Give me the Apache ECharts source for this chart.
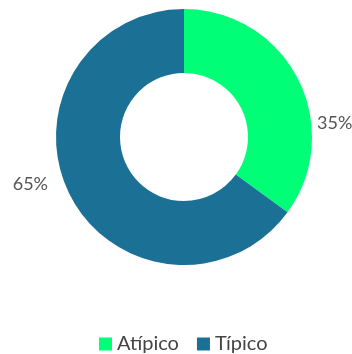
<!DOCTYPE html>
<html><head><meta charset="utf-8">
<script src="https://cdn.jsdelivr.net/npm/echarts@6/dist/echarts.min.js"></script>
<style>html,body{margin:0;padding:0;background:#fff}#c{width:352px;height:354px}</style>
</head><body><div id="c"></div>
<script>
var categories = ['Atípico', 'Típico'];
var values = [35, 65];
var colors = ['#00FF77', '#1B7096'];

var chart = echarts.init(document.getElementById('c'), null, {renderer: 'canvas'});
var labelPos = [[317, 123, 'left'], [48, 184, 'right']];
chart.setOption({
  animation: false,
  color: colors,
  legend: {
    top: 334,
    left: 99,
    padding: 0,
    icon: 'rect',
    itemWidth: 13,
    itemHeight: 13,
    itemGap: 18,
    itemStyle: {borderWidth: 0},
    textStyle: {fontFamily: 'Lato', fontSize: 20, color: '#444'},
    data: categories
  },
  series: [{
    type: 'pie',
    center: [184, 137],
    radius: [64, 128],
    startAngle: 90,
    clockwise: true,
    label: {
      show: true,
      position: 'outside',
      alignTo: 'none',
      overflow: 'none',
      width: 80,
      formatter: function (p) { return p.value + '%'; },
      fontFamily: 'Lato',
      fontSize: 18,
      color: '#555'
    },
    labelLine: {show: false},
    labelLayout: function (p) {
      var l = labelPos[p.dataIndex];
      return {x: l[0], y: l[1], align: l[2], verticalAlign: 'middle'};
    },
    itemStyle: {borderWidth: 0},
    emphasis: {disabled: true},
    data: categories.map(function (c, i) { return {name: c, value: values[i]}; })
  }]
});
</script></body></html>
